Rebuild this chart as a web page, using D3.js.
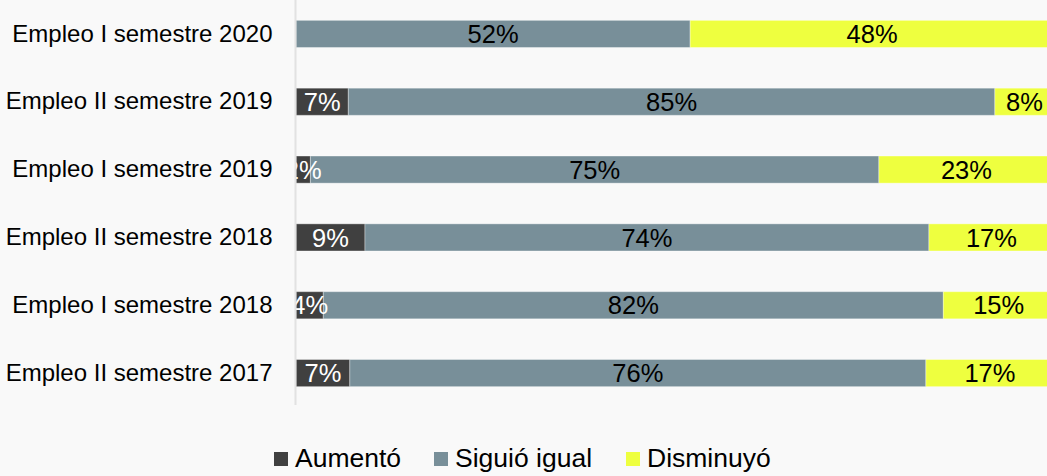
<!DOCTYPE html>
<html>
<head>
<meta charset="utf-8">
<script src="https://cdn.jsdelivr.net/npm/d3@7"></script>
<style>
  html, body { margin: 0; padding: 0; background: #f9f9f9; overflow: hidden; }
  text { font-family: "Liberation Sans", Arial, sans-serif; }
</style>
</head>
<body>
<div></div>
<script>
const categories = ['Empleo I semestre 2020', 'Empleo II semestre 2019', 'Empleo I semestre 2019',
                    'Empleo II semestre 2018', 'Empleo I semestre 2018', 'Empleo II semestre 2017'];
// shares; labels show them rounded
const aumento = [0, 6.9, 1.9, 9.1, 3.6, 7.1];
const siguioIgual = [52.0, 85.3, 75.0, 74.4, 81.8, 76.0];
const disminuyo = [48.0, 7.8, 23.1, 16.5, 14.6, 16.9];
const seriesNames = ['Aumentó', 'Siguió igual', 'Disminuyó'];
const colors = ['#404040', '#788f99', '#eeff3f'];
const labelColors = ['#fff', '#000', '#000'];

const svgWidth = 1047,
    svgHeight = 476,
    plotLeft = 296,
    plotRight = 1054,
    plotTop = 0,
    plotBottom = 407;

const svg = d3.select('body')
                .select('div')
                .append('svg')
                .attr('width', svgWidth)
                .attr('height', svgHeight);

const rows = categories.map((c, i) => ({ cat: c, values: [aumento[i], siguioIgual[i], disminuyo[i]] }));

const xScale = d3.scaleLinear()
                .domain([0, 100])
                .range([plotLeft, plotRight]);

const yScale = d3.scaleBand()
                .domain(categories)
                .range([plotTop, plotBottom])
                .paddingInner(0.6)
                .paddingOuter(0.3);

svg.append('defs').append('clipPath')
    .attr('id', 'plot-clip')
    .append('rect')
    .attr('x', plotLeft)
    .attr('y', plotTop)
    .attr('width', plotRight - plotLeft)
    .attr('height', plotBottom - plotTop);

// segments
const segs = [];
rows.forEach(r => {
    let acc = 0;
    r.values.forEach((v, k) => {
        segs.push({ cat: r.cat, k: k, v: v, x0: acc, x1: acc + v });
        acc += v;
    });
});

const plot = svg.append('g').attr('clip-path', 'url(#plot-clip)');

plot.selectAll('rect.seg')
    .data(segs.filter(d => d.v > 0))
    .enter()
    .append('rect')
    .attr('class', 'seg')
    .attr('x', d => xScale(d.x0))
    .attr('y', d => yScale(d.cat))
    .attr('width', d => xScale(d.x1) - xScale(d.x0))
    .attr('height', yScale.bandwidth())
    .attr('fill', d => colors[d.k])
    .attr('stroke', '#ffffff')
    .attr('stroke-opacity', 0.35)
    .attr('stroke-width', 1);

plot.selectAll('text.lbl')
    .data(segs.filter(d => d.v > 0))
    .enter()
    .append('text')
    .attr('class', 'lbl')
    .attr('x', d => (xScale(d.x0) + xScale(d.x1)) / 2)
    .attr('y', d => yScale(d.cat) + yScale.bandwidth() / 2)
    .attr('dy', '0.36em')
    .attr('text-anchor', 'middle')
    .attr('font-size', '25.5px')
    .attr('fill', d => labelColors[d.k])
    .text(d => Math.round(d.v) + '%');

// axis line
const yAxis = d3.axisLeft(yScale).tickSize(0).tickPadding(23);
const axisG = svg.append('g')
    .attr('transform', `translate(${plotLeft - 0.5}, 0)`)
    .call(yAxis);
axisG.select('.domain').attr('stroke', '#e2e2e2').attr('stroke-width', 2)
    .attr('d', `M0,${plotTop}V${plotBottom - 2}`);
axisG.selectAll('text')
    .attr('font-size', '24px')
    .attr('fill', '#000')
    .attr('font-family', '"Liberation Sans", Arial, sans-serif');

// legend
const legendX = [274, 434, 626];
const legend = svg.append('g').attr('id', 'legend');
const li = legend.selectAll('g')
    .data(seriesNames)
    .enter()
    .append('g')
    .attr('transform', (d, i) => `translate(${legendX[i]}, 452)`);
li.append('rect')
    .attr('width', 14)
    .attr('height', 14)
    .attr('fill', (d, i) => colors[i]);
li.append('text')
    .attr('x', 21)
    .attr('y', 15)
    .attr('font-size', '26.5px')
    .attr('fill', '#000')
    .text(d => d);
</script>
</body>
</html>
